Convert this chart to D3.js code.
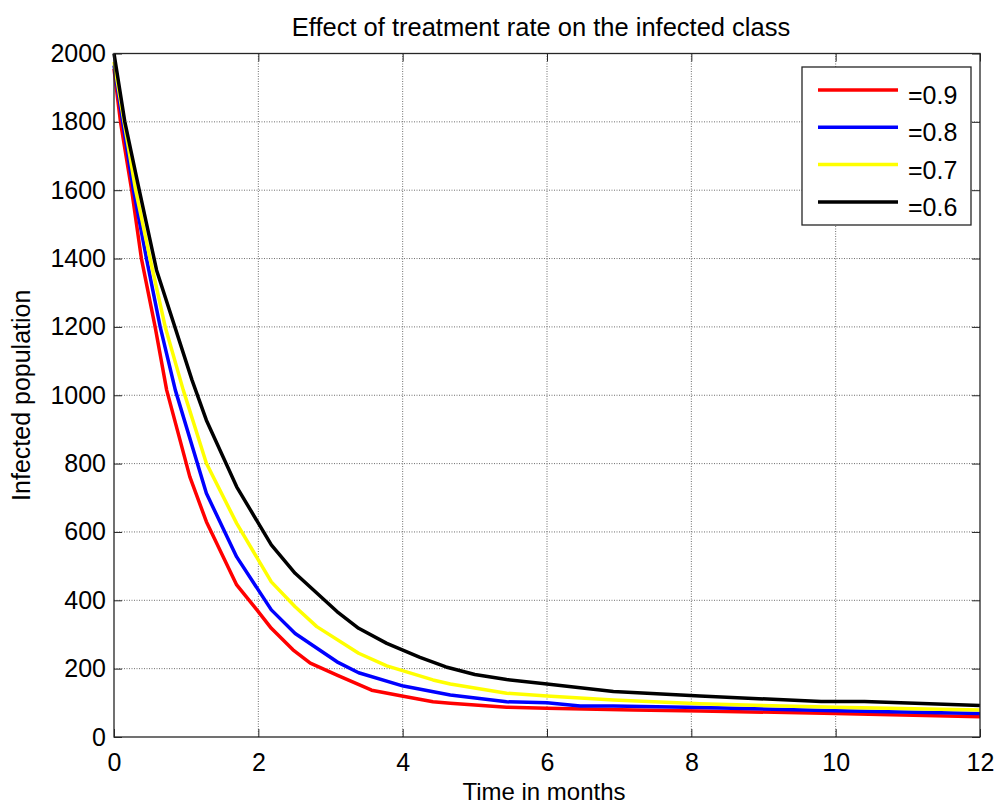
<!DOCTYPE html>
<html>
<head>
<meta charset="utf-8">
<script src="https://cdn.jsdelivr.net/npm/d3@7"></script>
<style>
  body { margin: 0; background: #fff; }
  svg text { font-family: "Liberation Sans", Arial, sans-serif; fill: #000; }
</style>
</head>
<body>
<div id="chart"></div>
<script>
// values (time in months, infected population)
const legendLabels = ['=0.9', '=0.8', '=0.7', '=0.6'];
const lineColors = ['#ff0000', '#0000ff', '#ffff00', '#000000'];

const timeRed = [0, 0.09, 0.245, 0.38, 0.57, 0.73, 1.05, 1.28, 1.70, 1.98, 2.18, 2.48, 2.72, 3.09, 3.57, 3.99, 4.42, 4.66, 5.44, 6.0, 7.2, 8.12, 10.0, 12];
const infRed  = [1955, 1800, 1600, 1400, 1200, 1015, 762, 630, 445, 372, 318, 255, 216, 181, 137, 120, 103, 99, 87, 84, 79, 76, 69, 59];

const timeBlue = [0, 0.12, 0.27, 0.45, 0.64, 0.85, 1.28, 1.70, 2.18, 2.51, 3.09, 3.39, 4.01, 4.66, 5.44, 6.0, 6.46, 6.92, 8.12, 10.0, 12];
const infBlue  = [1965, 1800, 1600, 1400, 1200, 1015, 713, 527, 372, 303, 220, 188, 149, 123, 103, 100, 91, 91, 86, 77, 69];

const timeYellow = [0, 0.14, 0.30, 0.50, 0.71, 0.96, 1.28, 1.70, 2.18, 2.51, 2.81, 3.39, 3.78, 4.42, 4.66, 5.44, 6.0, 6.92, 8.12, 10.0, 12];
const infYellow  = [1975, 1800, 1600, 1400, 1200, 1015, 801, 625, 454, 381, 323, 245, 208, 167, 155, 128, 120, 108, 97, 87, 79];

const timeBlack = [0, 0.15, 0.35, 0.59, 1.08, 1.28, 1.70, 2.18, 2.51, 3.09, 3.39, 3.78, 4.24, 4.6, 5.0, 5.44, 6.0, 6.92, 8.12, 9.8, 10.4, 12];
const infBlack  = [2000, 1800, 1600, 1366, 1045, 927, 732, 562, 479, 367, 318, 274, 233, 205, 183, 168, 155, 133, 120, 104, 104, 92];

const xTicks = [0, 2, 4, 6, 8, 10, 12];
const yTicks = [0, 200, 400, 600, 800, 1000, 1200, 1400, 1600, 1800, 2000];

const series = [
  [timeRed, infRed],
  [timeBlue, infBlue],
  [timeYellow, infYellow],
  [timeBlack, infBlack]
].map((s, i) => ({
  label: legendLabels[i],
  color: lineColors[i],
  points: s[0].map((t, j) => ({ t: t, v: s[1][j] }))
}));

const width = 998, height = 805;
const margin = { top: 53.5, right: 18, bottom: 68, left: 114 };
const innerW = width - margin.left - margin.right;
const innerH = height - margin.top - margin.bottom;

const svg = d3.select('#chart')
  .append('svg')
  .attr('width', width)
  .attr('height', height);

const g = svg.append('g')
  .attr('transform', `translate(${margin.left},${margin.top})`);

const x = d3.scaleLinear().domain([0, 12]).range([0, innerW]);
const y = d3.scaleLinear().domain([0, 2000]).range([innerH, 0]);

// dotted grid
g.append('g')
  .selectAll('line')
  .data(xTicks.slice(1, -1))
  .join('line')
  .attr('x1', d => x(d)).attr('x2', d => x(d))
  .attr('y1', 0).attr('y2', innerH)
  .attr('stroke', '#6e6e6e')
  .attr('stroke-dasharray', '1,1.5');

g.append('g')
  .selectAll('line')
  .data(yTicks.slice(1, -1))
  .join('line')
  .attr('y1', d => y(d)).attr('y2', d => y(d))
  .attr('x1', 0).attr('x2', innerW)
  .attr('stroke', '#6e6e6e')
  .attr('stroke-dasharray', '1,1.5');

// axes with inward ticks (matlab style)
const tickLen = 8;
const xAxis = g.append('g')
  .attr('transform', `translate(0,${innerH})`)
  .call(d3.axisBottom(x).tickValues(xTicks).tickSize(-tickLen).tickPadding(16).tickFormat(d3.format('d')));
const xAxisTop = g.append('g')
  .call(d3.axisTop(x).tickValues(xTicks).tickSize(-tickLen).tickFormat(''));
const yAxis = g.append('g')
  .call(d3.axisLeft(y).tickValues(yTicks).tickSize(-tickLen).tickPadding(8).tickFormat(d3.format('d')));
const yAxisRight = g.append('g')
  .attr('transform', `translate(${innerW},0)`)
  .call(d3.axisRight(y).tickValues(yTicks).tickSize(-tickLen).tickFormat(''));

[xAxis, xAxisTop, yAxis, yAxisRight].forEach(a => {
  a.select('.domain').remove();
  a.selectAll('line').attr('stroke', '#262626');
  a.selectAll('text').style('font-size', '25px').attr('fill', '#000');
});
xAxis.selectAll('text').attr('dy', '0.71em');

// the curves
const line = d3.line()
  .x(d => x(d.t))
  .y(d => y(d.v));

g.append('g')
  .selectAll('path')
  .data(series)
  .join('path')
  .attr('d', d => line(d.points))
  .attr('fill', 'none')
  .attr('stroke', d => d.color)
  .attr('stroke-width', 3.5)
  .attr('stroke-linejoin', 'round');

// box
g.append('rect')
  .attr('width', innerW).attr('height', innerH)
  .attr('fill', 'none')
  .attr('stroke', '#262626')
  .attr('stroke-width', 1.3);

// titles
svg.append('text')
  .attr('x', 541).attr('y', 36)
  .attr('text-anchor', 'middle')
  .style('font-size', '25.5px')
  .text('Effect of treatment rate on the infected class');

svg.append('text')
  .attr('x', margin.left + innerW / 2 - 3).attr('y', 800)
  .attr('text-anchor', 'middle')
  .style('font-size', '24px')
  .text('Time in months');

svg.append('text')
  .attr('transform', `translate(30,${margin.top + innerH / 2}) rotate(-90)`)
  .attr('text-anchor', 'middle')
  .style('font-size', '25px')
  .text('Infected population');

// legend
const legend = svg.append('g').attr('transform', 'translate(802,67)');
legend.append('rect')
  .attr('width', 169).attr('height', 158)
  .attr('fill', '#fff')
  .attr('stroke', '#262626')
  .attr('stroke-width', 1.3);

const rows = legend.selectAll('g.row')
  .data(series)
  .join('g')
  .attr('class', 'row')
  .attr('transform', (d, i) => `translate(0,${23 + i * 37.3})`);

rows.append('line')
  .attr('x1', 16).attr('x2', 96)
  .attr('stroke', d => d.color)
  .attr('stroke-width', 3.5);

rows.append('text')
  .attr('x', 106).attr('y', 14)
  .style('font-size', '25px')
  .text(d => d.label);
</script>
</body>
</html>
